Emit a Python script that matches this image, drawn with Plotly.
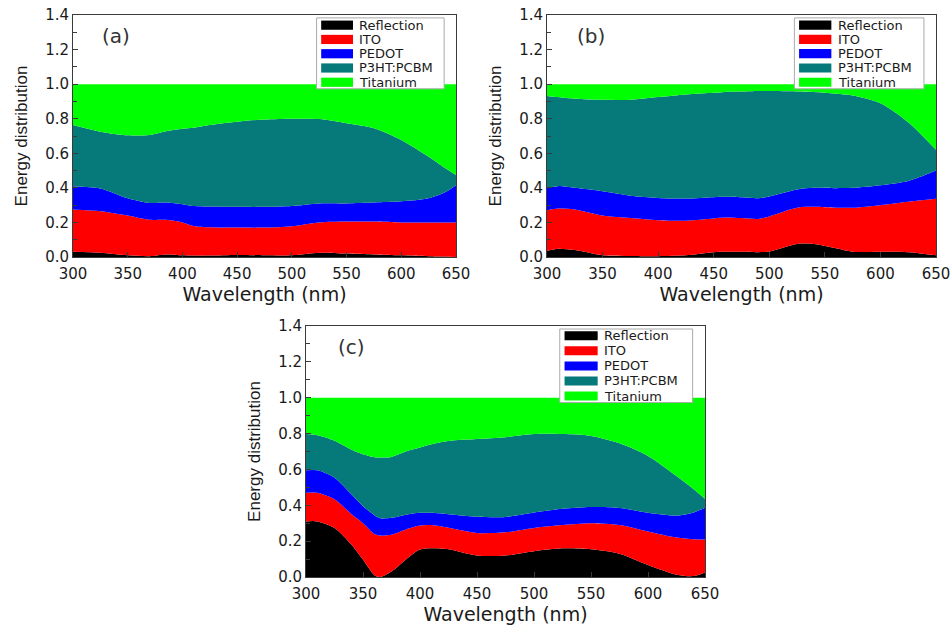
import plotly.graph_objects as go

# ---------------- data ----------------
layers = ["Reflection", "ITO", "PEDOT", "P3HT:PCBM", "Titanium"]
colors = ["#000000", "#FF0000", "#0000FF", "#067A7A", "#00FF00"]

# Panel (a): cumulative upper boundary of each layer
a_wl = [300, 325, 350, 370, 385, 400, 410, 425, 450, 475, 500, 525, 550, 575, 600, 625, 640, 650]
a_reflection = [0.03, 0.025, 0.01, 0.005, 0.015, 0.01, 0.008, 0.008, 0.012, 0.01, 0.01, 0.025, 0.02, 0.015, 0.01, 0.005, 0.003, 0.0]
a_ito = [0.275, 0.265, 0.24, 0.215, 0.215, 0.20, 0.18, 0.172, 0.17, 0.17, 0.178, 0.20, 0.205, 0.205, 0.20, 0.20, 0.20, 0.20]
a_pedot = [0.41, 0.397, 0.34, 0.313, 0.315, 0.305, 0.295, 0.292, 0.29, 0.29, 0.295, 0.31, 0.31, 0.315, 0.322, 0.34, 0.375, 0.415]
a_p3ht = [0.764, 0.725, 0.704, 0.706, 0.728, 0.742, 0.748, 0.764, 0.783, 0.795, 0.80, 0.798, 0.774, 0.745, 0.677, 0.58, 0.515, 0.474]
a_titanium = [1.0] * 18

# Panel (b)
b_wl = [300, 310, 325, 350, 375, 400, 425, 450, 460, 475, 490, 500, 525, 540, 560, 575, 600, 625, 650]
b_reflection = [0.035, 0.048, 0.04, 0.01, 0.006, 0.005, 0.01, 0.028, 0.03, 0.03, 0.028, 0.032, 0.075, 0.075, 0.05, 0.03, 0.03, 0.028, 0.01]
b_ito = [0.27, 0.28, 0.275, 0.24, 0.225, 0.213, 0.21, 0.223, 0.228, 0.225, 0.22, 0.235, 0.285, 0.29, 0.285, 0.285, 0.30, 0.32, 0.337]
b_pedot = [0.40, 0.41, 0.40, 0.38, 0.355, 0.342, 0.338, 0.346, 0.348, 0.345, 0.34, 0.35, 0.39, 0.40, 0.398, 0.40, 0.415, 0.44, 0.50]
b_p3ht = [0.932, 0.925, 0.915, 0.909, 0.91, 0.925, 0.94, 0.95, 0.955, 0.957, 0.96, 0.96, 0.958, 0.955, 0.945, 0.935, 0.89, 0.78, 0.62]
b_titanium = [1.0] * 19

# Panel (c)
c_wl = [300, 310, 325, 340, 350, 360, 365, 375, 390, 400, 410, 425, 450, 475, 500, 525, 550, 575, 600, 625, 640, 650]
c_reflection = [0.31, 0.31, 0.274, 0.18, 0.097, 0.01, 0.0, 0.03, 0.11, 0.153, 0.16, 0.155, 0.12, 0.12, 0.144, 0.16, 0.155, 0.13, 0.067, 0.013, 0.005, 0.025]
c_ito = [0.47, 0.47, 0.433, 0.35, 0.30, 0.24, 0.231, 0.235, 0.27, 0.287, 0.29, 0.275, 0.246, 0.25, 0.274, 0.29, 0.30, 0.29, 0.254, 0.22, 0.21, 0.209]
c_pedot = [0.595, 0.595, 0.554, 0.46, 0.395, 0.345, 0.328, 0.33, 0.35, 0.358, 0.358, 0.35, 0.336, 0.335, 0.36, 0.38, 0.39, 0.385, 0.358, 0.343, 0.36, 0.386]
c_p3ht = [0.797, 0.79, 0.76, 0.71, 0.685, 0.668, 0.666, 0.67, 0.705, 0.722, 0.74, 0.759, 0.77, 0.78, 0.797, 0.797, 0.787, 0.746, 0.675, 0.563, 0.49, 0.437]
c_titanium = [1.0] * 22

panels = [
    ("(a)", a_wl, [a_reflection, a_ito, a_pedot, a_p3ht, a_titanium]),
    ("(b)", b_wl, [b_reflection, b_ito, b_pedot, b_p3ht, b_titanium]),
    ("(c)", c_wl, [c_reflection, c_ito, c_pedot, c_p3ht, c_titanium]),
]

x_range = [300, 650]
y_range = [0, 1.4]
x_ticks = [300, 350, 400, 450, 500, 550, 600, 650]
y_ticks = [0.0, 0.2, 0.4, 0.6, 0.8, 1.0, 1.2, 1.4]

# ---------------- layout geometry ----------------
W, H = 952, 628
px_boxes = [  # (left, right, top, bottom) in pixels
    (73, 456, 15, 257),
    (547, 936, 15, 257),
    (306, 705, 326, 577),
]

fig = go.Figure()
TXT = "#1a1a1a"
HFONT = "DejaVu Sans"

for i, (label, wl, bounds) in enumerate(panels):
    n = "" if i == 0 else str(i + 1)
    xa, ya = "x" + n, "y" + n
    # baseline
    fig.add_trace(go.Scatter(x=wl, y=[0] * len(wl), mode="lines", line=dict(width=0),
                             showlegend=False, hoverinfo="skip", xaxis=xa, yaxis=ya))
    for name, col, b in zip(layers, colors, bounds):
        fig.add_trace(go.Scatter(
            x=wl, y=b, mode="lines", name=name, fill="tonexty", fillcolor=col,
            line=dict(width=0, shape="spline", smoothing=0.8, color=col),
            showlegend=False, xaxis=xa, yaxis=ya))

    l, r, t, b_ = px_boxes[i]
    common_ax = dict(showline=True, mirror=True, linecolor="#3a3a3a", linewidth=1,
                     showgrid=False, zeroline=False, ticks="inside", ticklen=5,
                     tickcolor="#3a3a3a", automargin=False,
                     tickfont=dict(family=HFONT, size=15, color=TXT))
    fig.layout["xaxis" + n] = dict(
        domain=[l / W, r / W], anchor=ya, range=x_range, tickvals=x_ticks,
        ticklabelstandoff=3,
        title=dict(text="Wavelength (nm)", font=dict(family=HFONT, size=19, color=TXT), standoff=3),
        **common_ax)
    fig.layout["yaxis" + n] = dict(
        domain=[1 - b_ / H, 1 - t / H], anchor=xa, range=y_range, tickvals=y_ticks,
        tickformat=".1f", ticklabelstandoff=0,
        minor=dict(ticks="inside", ticklen=4, tickcolor="#3a3a3a", dtick=0.1, showgrid=False),
        title=dict(text="Energy distribution", font=dict(family="Liberation Sans", size=17, color=TXT), standoff=13),
        **common_ax)

    xr, yr = xa + " domain", ya + " domain"
    # panel label
    fig.add_annotation(text=label, xref=xr, yref=yr, x=0.113, y=0.915, showarrow=False,
                       xanchor="center", yanchor="middle",
                       font=dict(family=HFONT, size=20, color="#333333"))
    # legend box
    fig.add_shape(type="rect", xref=xr, yref=yr, x0=0.636, x1=0.969, y0=0.695, y1=0.988,
                  fillcolor="white", line=dict(color="#aaaaaa", width=1), layer="above")
    step = 0.059 if i < 2 else 0.06
    top = 0.958 if i < 2 else 0.961
    swh = 0.019 if i < 2 else 0.018
    for k, (name, col) in enumerate(zip(layers, colors)):
        yc = top - k * step
        fig.add_shape(type="rect", xref=xr, yref=yr, x0=0.648, x1=0.731, y0=yc - swh, y1=yc + swh,
                      fillcolor=col, line=dict(width=0), layer="above")
        fig.add_annotation(text=name, xref=xr, yref=yr, x=0.742, y=yc, xanchor="left",
                           yanchor="middle", showarrow=False,
                           font=dict(family=HFONT, size=13, color=TXT))

fig.update_layout(width=W, height=H, margin=dict(l=0, r=0, t=0, b=0),
                  paper_bgcolor="white", plot_bgcolor="white", showlegend=False)

fig.write_html("out.html")
